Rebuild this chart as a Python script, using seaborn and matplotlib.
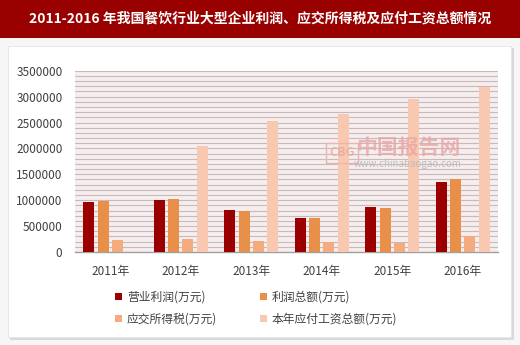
import matplotlib
matplotlib.use("Agg")
import matplotlib.pyplot as plt
from matplotlib.patches import Rectangle
from matplotlib.ticker import MultipleLocator
import seaborn as sns
import pandas as pd

years = ["2011年", "2012年", "2013年", "2014年", "2015年", "2016年"]
series_names = ["营业利润(万元)", "利润总额(万元)", "应交所得税(万元)", "本年应付工资总额(万元)"]
op_profit = [960000, 1000000, 810000, 650000, 860000, 1350000]
total_profit = [975000, 1020000, 790000, 650000, 840000, 1410000]
income_tax = [232000, 250000, 210000, 190000, 170000, 300000]
wages = [0, 2050000, 2520000, 2660000, 2960000, 3190000]
colors = ["#9b0000", "#e8904a", "#f4ab7e", "#f8c9b0"]
title = "2011-2016 年我国餐饮行业大型企业利润、应交所得税及应付工资总额情况"

rows = []
for name, vals in zip(series_names, [op_profit, total_profit, income_tax, wages]):
    for y, v in zip(years, vals):
        rows.append({"year": y, "series": name, "value": v})
df = pd.DataFrame(rows)

sns.set_theme(style="white")
plt.rcParams["font.family"] = ["Noto Sans CJK SC", "DejaVu Sans"]

fig = plt.figure(figsize=(5.2, 3.45), dpi=100)
fig.patch.set_facecolor("#f7f5f5")

# title bar
fig.patches.append(Rectangle((0, 1 - 38 / 345), 1, 38 / 345, transform=fig.transFigure,
                             facecolor="#990000", edgecolor="none", zorder=-5))
fig.text(0.5, 1 - 19 / 345, title, ha="center", va="center", color="white",
         fontsize=10, fontweight="bold")

# card with shadow
fig.patches.append(Rectangle((10 / 520, 1 - 340 / 345), 504 / 520, 292 / 345,
                             transform=fig.transFigure, facecolor="#d9d9d9",
                             edgecolor="none", zorder=-5))
fig.patches.append(Rectangle((8 / 520, 1 - 337 / 345), 503 / 520, 291 / 345,
                             transform=fig.transFigure, facecolor="white",
                             edgecolor="#e4e4e4", lw=0.6, zorder=-4))

ax = fig.add_axes([75 / 520, 1 - 252 / 345, 423 / 520, (252 - 70.7) / 345])
ax.set_facecolor("#f6eeee")

sns.barplot(data=df, x="year", y="value", hue="series", palette=colors,
            width=0.82, ax=ax, saturation=1, edgecolor="none")

# shrink bars to leave small gaps between them
for p in ax.patches:
    w = p.get_width()
    if w > 0:
        nw = w * 0.76
        p.set_x(p.get_x() + (w - nw) / 2)
        p.set_width(nw)
        p.set_zorder(3)

ax.set_ylim(0, 3500000)
ax.set_xlim(-0.5, 5.5)
ax.yaxis.set_major_locator(MultipleLocator(500000))
ax.yaxis.set_minor_locator(MultipleLocator(100000))
ax.grid(axis="y", which="both", color="#c9baba", lw=0.8, zorder=0)
ax.set_axisbelow(True)
for s in ["top", "right", "left"]:
    ax.spines[s].set_visible(False)
ax.spines["bottom"].set_color("#a0a0a0")
ax.spines["bottom"].set_linewidth(1)
ax.set_xlabel("")
ax.set_ylabel("")
ax.tick_params(axis="y", which="both", length=0, labelsize=8.5, colors="#404040", pad=9)
ax.tick_params(axis="x", length=0, labelsize=8.5, colors="#404040", pad=9)
ax.set_yticks(ax.get_yticks())
ax.set_yticklabels([f"{int(t)}" for t in ax.get_yticks()])
ax.set_ylim(0, 3500000)

# watermark
fig.text(342 / 520, 1 - 153 / 345, "CBG", ha="center", va="center",
         color="#e9a9a0", fontsize=9, fontweight="bold", alpha=0.8, zorder=5,
         bbox=dict(boxstyle="square,pad=0.25", fc="none", ec="#eab5ae", lw=1))
fig.text(408 / 520, 1 - 147 / 345, "中国报告网", ha="center", va="center",
         color="#e8a6a6", fontsize=15, fontweight="bold", alpha=0.8, zorder=5)
fig.text(408 / 520, 1 - 164 / 345, "www.chinabaogao.com", ha="center", va="center",
         color="#b8b8b8", fontsize=7, alpha=0.9, zorder=5)

handles, labels = ax.get_legend_handles_labels()
ax.legend_.remove()
order = [0, 2, 1, 3]
fig.legend([handles[i] for i in order], [labels[i] for i in order], loc="center", ncol=2,
           frameon=False, bbox_to_anchor=(256 / 520, 1 - 308 / 345), fontsize=8.5,
           handlelength=0.6, handleheight=0.6, handletextpad=0.4,
           columnspacing=3.6, labelspacing=0.75, labelcolor="#404040")

fig.savefig("out.png", dpi=100, facecolor=fig.get_facecolor())
